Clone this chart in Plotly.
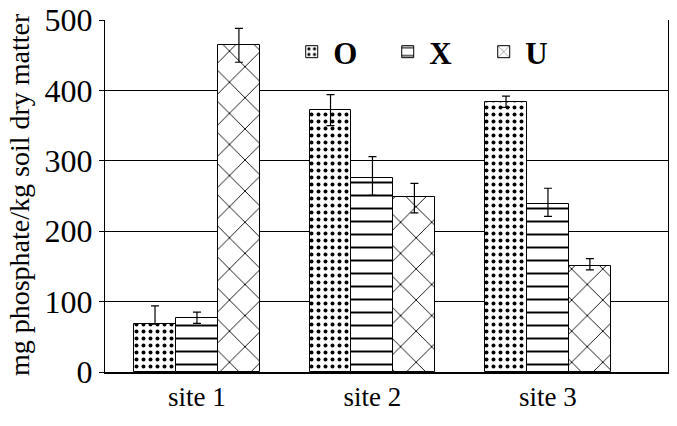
import plotly.graph_objects as go

sites = ["site 1", "site 2", "site 3"]
series_names = ["O", "X", "U"]
values_O = [68, 372, 384]
values_X = [77, 276, 239]
values_U = [464, 248, 151]
err_O_plus = [26, 22, 8]
err_O_minus = [0, 22, 8]
err_X_plus = [8, 30, 22]
err_X_minus = [8, 25, 18]
err_U_plus = [24, 20, 10]
err_U_minus = [24, 22, 6]
y_title = "mg phosphate/kg soil dry matter"

series = [
    ("O", values_O, err_O_plus, err_O_minus, dict(shape=".", size=7, solidity=0.25)),
    ("X", values_X, err_X_plus, err_X_minus, dict(shape="-", size=13, solidity=0.15)),
    ("U", values_U, err_U_plus, err_U_minus, dict(shape="x", size=22, solidity=0.08)),
]

bar_w = 0.239
offsets = [-bar_w, 0, bar_w]
fig = go.Figure()
for (name, vals, ep, em, pat), off in zip(series, offsets):
    xs = [i + off for i in range(len(sites))]
    fig.add_trace(go.Bar(
        x=xs, y=vals, name=name, width=bar_w,
        marker=dict(color="white", line=dict(color="black", width=1),
                    pattern=dict(fgcolor="black", bgcolor="white", fillmode="replace", **pat)),
        error_y=dict(type="data", array=ep, arrayminus=em, symmetric=False,
                     color="black", thickness=1.2, width=4),
    ))

fig.add_annotation(text=y_title, xref="paper", yref="paper", x=-0.153, y=0.505,
                   xanchor="center", yanchor="middle", textangle=-90, showarrow=False,
                   borderpad=0, font=dict(size=28, family="Liberation Serif", color="black"))

fig.update_layout(
    width=677, height=426,
    margin=dict(l=105, r=9, t=20, b=54, autoexpand=False),
    plot_bgcolor="white", paper_bgcolor="white",
    font=dict(family="Liberation Serif", color="black"),
    showlegend=True,
    legend=dict(orientation="h", x=0.329, y=0.909, xanchor="left", yanchor="middle",
                font=dict(size=31, family="Liberation Serif", weight="bold"),
                itemwidth=33, entrywidth=48, bgcolor="rgba(0,0,0,0)", traceorder="normal"),
    bargap=0, barmode="overlay",
    xaxis=dict(range=[-0.524, 2.684], tickvals=[0, 1, 2], ticktext=sites,
               showline=True, linecolor="black", linewidth=1.5, ticks="",
               showgrid=False, tickfont=dict(size=27), zeroline=False,
               ticklabelstandoff=0, automargin=False),
    yaxis=dict(range=[0, 500], tickvals=[0, 100, 200, 300, 400, 500],
               showline=True, mirror=True, linecolor="black", linewidth=1.2,
               ticks="outside", ticklen=5, tickcolor="black",
               showgrid=True, gridcolor="black", gridwidth=1,
               tickfont=dict(size=32), zeroline=False, automargin=False),
)
fig.write_html("out.html", config={"displayModeBar": False},
               post_script="document.body.style.margin='0';")
